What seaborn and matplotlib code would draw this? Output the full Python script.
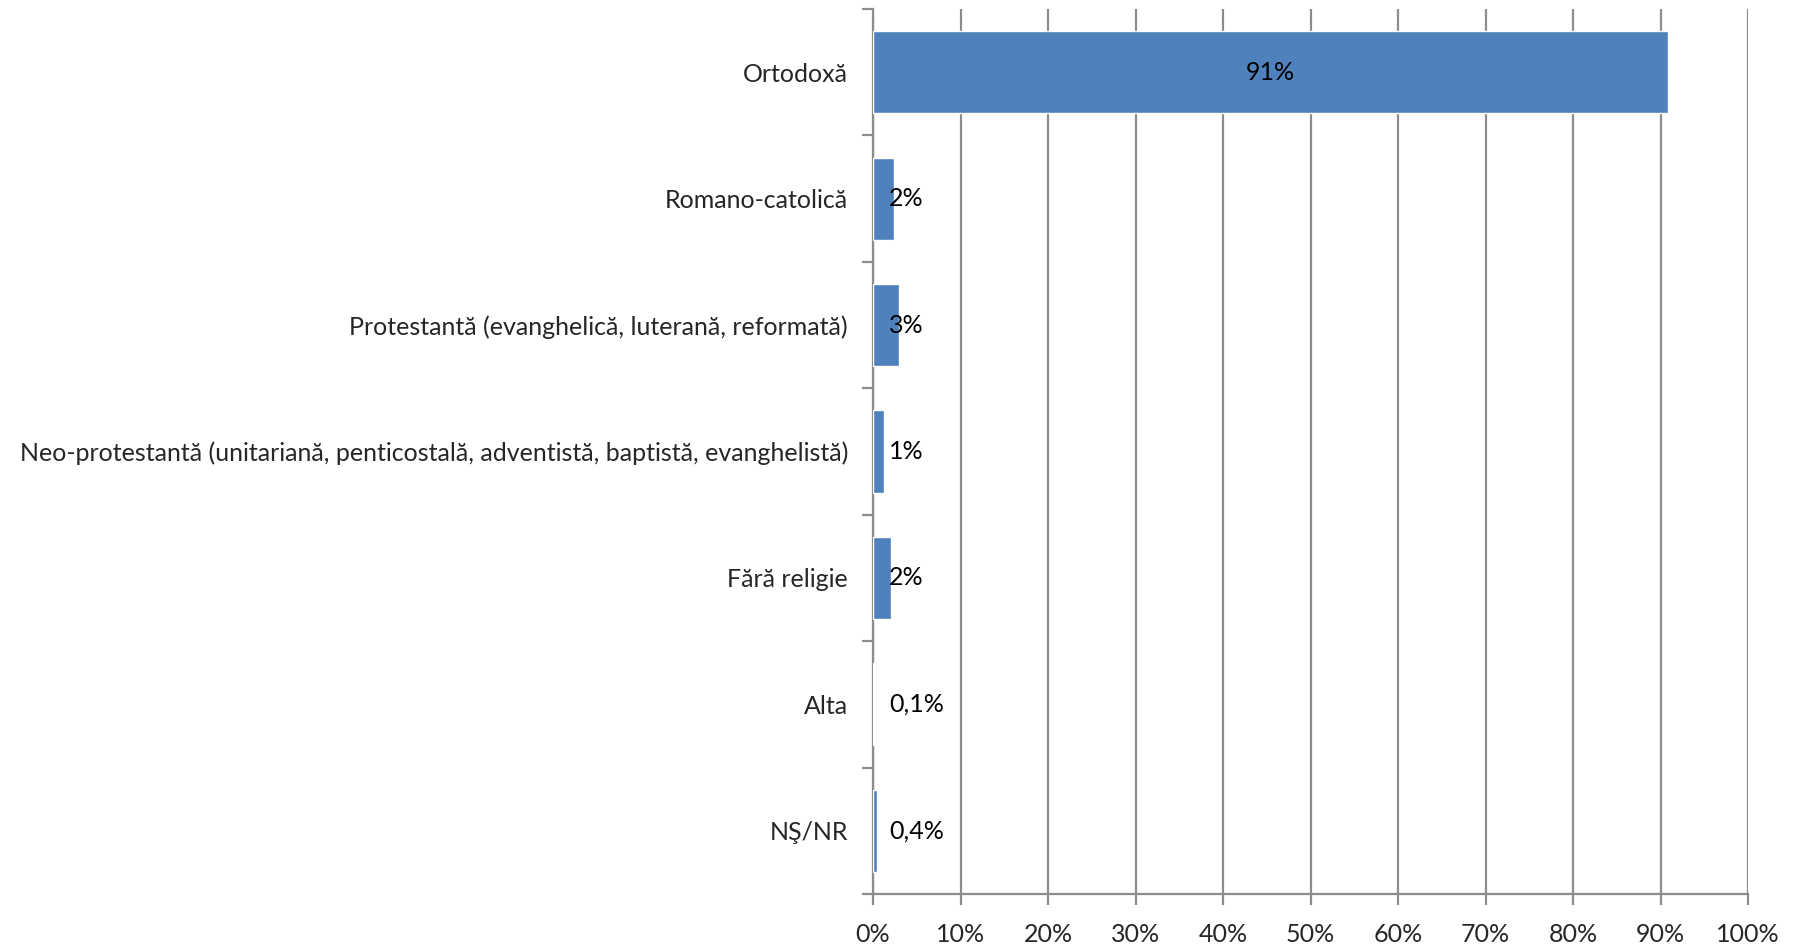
import matplotlib
matplotlib.use("Agg")
import matplotlib.pyplot as plt
from matplotlib.ticker import FixedLocator, PercentFormatter
import pandas as pd
import seaborn as sns

# --- DATA ---
categories = [
    "Ortodoxă",
    "Romano-catolică",
    "Protestantă (evanghelică, luterană, reformată)",
    "Neo-protestantă (unitariană, penticostală, adventistă, baptistă, evanghelistă)",
    "Fără religie",
    "Alta",
    "NŞ/NR",
]
values = [90.9, 2.4, 3.0, 1.3, 2.05, 0.1, 0.42]
value_labels = ["91%", "2%", "3%", "1%", "2%", "0,1%", "0,4%"]
x_ticks = list(range(0, 101, 10))

df = pd.DataFrame({"religie": categories, "procent": values})

BAR_COLOR = "#4F81BD"
GRID_COLOR = "#8C8C8C"

sns.set_style("white")
plt.rcParams["font.family"] = ["Lato", "DejaVu Sans"]

fig = plt.figure(figsize=(17.99, 9.46), dpi=100)
ax = fig.add_axes([0.4853, 0.055, 0.4864, 0.9355])

sns.barplot(data=df, y="religie", x="procent", orient="h", color=BAR_COLOR,
            width=0.65, saturation=1, ax=ax, zorder=3)

ax.set_xlim(0, 100)
ax.set_ylim(6.5, -0.5)
ax.set_xlabel("")
ax.set_ylabel("")

# vertical gridlines
ax.xaxis.set_major_locator(FixedLocator(x_ticks))
ax.xaxis.set_major_formatter(PercentFormatter(decimals=0))
ax.grid(axis="x", color=GRID_COLOR, linewidth=1.6, zorder=0)
ax.set_axisbelow(True)

for side in ["top", "right"]:
    ax.spines[side].set_visible(False)
for side in ["left", "bottom"]:
    ax.spines[side].set_color(GRID_COLOR)
    ax.spines[side].set_linewidth(1.6)

ax.tick_params(axis="x", which="major", direction="out", length=8, width=1.6,
               color=GRID_COLOR, pad=13, labelsize=18, bottom=True)
ax.tick_params(axis="y", which="major", length=0, pad=18, labelsize=18)
for t in ax.get_xticklabels():
    t.set_family(["Liberation Sans Narrow", "Lato", "DejaVu Sans"])

# category boundary ticks on the y axis
ax.yaxis.set_minor_locator(FixedLocator([i + 0.5 for i in range(-1, len(categories))]))
ax.tick_params(axis="y", which="minor", direction="out", length=8, width=1.6,
               color=GRID_COLOR, left=True)

# data labels
for i, (v, lab) in enumerate(zip(values, value_labels)):
    if v > 20:
        ax.text(v / 2, i, lab, ha="center", va="center", fontsize=18, color="black", zorder=5)
    else:
        ax.text(1.85, i, lab, ha="left", va="center", fontsize=18, color="black", zorder=5)

fig.savefig("out.png", dpi=100)
